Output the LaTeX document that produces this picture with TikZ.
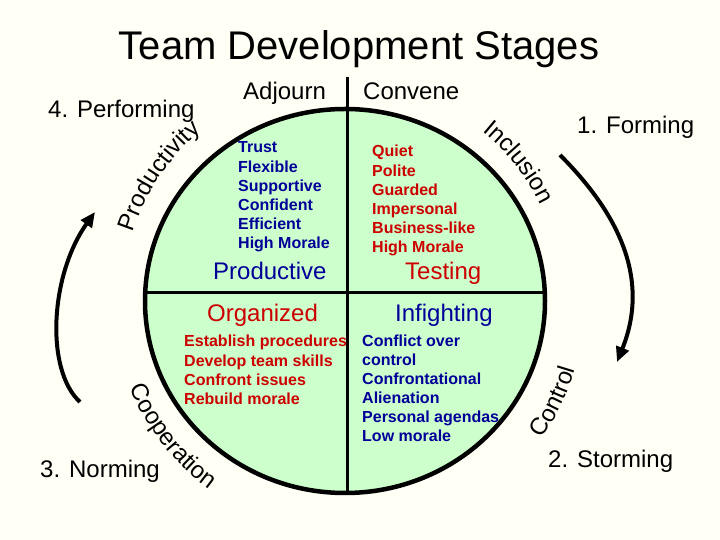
\documentclass[tikz,border=0pt]{standalone}
\usepackage{fontspec}
\setmainfont{Liberation Sans}
\usetikzlibrary{arrows.meta,decorations.text}
\definecolor{bgcol}{RGB}{255,255,246}
\definecolor{fillg}{RGB}{204,255,204}
\definecolor{tblue}{RGB}{0,0,153}
\definecolor{tred}{RGB}{204,0,0}
\newcommand\curvefont{\fontsize{24}{28}\selectfont}
\begin{document}
\begin{tikzpicture}[x=1pt,y=1pt,
  lbl/.style={anchor=base west,inner sep=0pt,font=\fontsize{24}{28}\selectfont},
  lst/.style={anchor=base west,inner sep=0pt,font=\fontsize{16}{19}\bfseries\selectfont},
  divider/.style={line width=3pt,black},
  rim/.style={line width=4.5pt,black},
  cyclearrow/.style={line width=4pt,-{Triangle[length=15pt,width=13pt]}},
  curvetext/.style={decorate,decoration={text along path,text={|\curvefont|#1}}}]
\useasboundingbox[fill=bgcol] (0,0) rectangle (720,540);
\coordinate (ctr) at (345,239);
% circle fill
\fill[fillg] (ctr) ellipse [x radius=200pt,y radius=192pt];
% dividers
\coordinate (vtop) at (347.5,463);
\coordinate (vbot) at (347.5,48);
\coordinate (hl) at (146,247);
\coordinate (hr) at (544,247);
\draw[divider] (vtop) -- (vbot);
\draw[divider] (hl) -- (hr);
% rim
\draw[rim] (ctr) ellipse [x radius=200pt,y radius=192pt];
% title
\node[anchor=base,inner sep=0pt,font=\fontsize{40}{44}\selectfont] (title) at (359,480) {Team Development Stages};
% labels
\node[lbl] (perf) at (48,422) {4. Performing};
\node[lbl] (adj) at (243,440) {Adjourn};
\node[lbl] (conv) at (363,440) {Convene};
\node[lbl] (form) at (577,406) {1. Forming};
\node[lbl] (storm) at (548,72) {2. Storming};
\node[lbl] (norm) at (40,62) {3. Norming};
\node[lbl,text=tblue] (prodv) at (213,260) {Productive};
\node[lbl,text=tred] (test) at (405,260) {Testing};
\node[lbl,text=tred] (org) at (207,218) {Organized};
\node[lbl,text=tblue] (infi) at (395,218) {Infighting};
% lists
\foreach \t [count=\i from 0] in {Trust,Flexible,Supportive,Confident,Efficient,High Morale}
  \node[lst,text=tblue] (tl\i) at (238,387-19.2*\i) {\t};
\foreach \t [count=\i from 0] in {Quiet,Polite,Guarded,Impersonal,Business-like,High Morale}
  \node[lst,text=tred] (tr\i) at (372,383-19.2*\i) {\t};
\foreach \t [count=\i from 0] in {Establish procedures,Develop team skills,Confront issues,Rebuild morale}
  \node[lst,text=tred] (bl\i) at (184,193-19.3*\i) {\t};
\foreach \t [count=\i from 0] in {Conflict over,control,Confrontational,Alienation,Personal agendas,Low morale}
  \node[lst,text=tblue] (br\i) at (362,193-19*\i) {\t};
% curved texts
\path[curvetext=Productivity] ([shift={(162:223pt)}]ctr) arc[start angle=162,end angle=100,radius=223pt];
\path[curvetext=Inclusion] ([shift={(51:218pt)}]ctr) arc[start angle=51,end angle=0,radius=218pt];
\path[curvetext=Control] ([shift={(-35:240pt)}]ctr) arc[start angle=-35,end angle=10,radius=240pt];
\path[curvetext=Cooperation] ([shift={(202:232pt)}]ctr) arc[start angle=202,end angle=260,radius=232pt];
% cycle arrows
\coordinate (ra) at (560,385);
\coordinate (rb) at (617,178);
\coordinate (la) at (80,138);
\coordinate (lb) at (95,328);
\draw[cyclearrow] (ra) .. controls (620,325) and (650,260) .. (rb);
\draw[cyclearrow] (la) .. controls (45,170) and (50,265) .. (lb);
\end{tikzpicture}
\end{document}
